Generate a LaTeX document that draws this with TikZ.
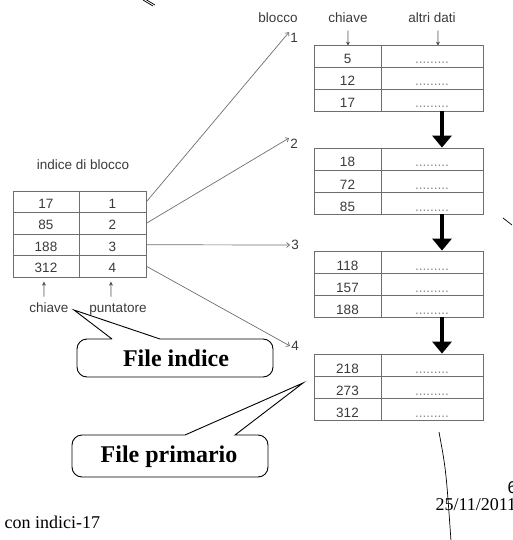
\documentclass[tikz,border=0pt]{standalone}
\usepackage{graphicx}
\usepackage{fontspec}
\setmainfont{Liberation Serif}
\setsansfont{Liberation Sans}
\usetikzlibrary{arrows.meta}
\definecolor{ink}{HTML}{3A3A3A}
\definecolor{rule}{HTML}{6E6E6E}
\definecolor{dots}{HTML}{8A8A8A}
\newcommand{\tallglyph}[1]{\scalebox{1.1}[1.9]{#1}}
\tikzset{
  tab/.style={font=\sffamily\fontsize{13.5}{14}\selectfont, text=ink},
  cell/.style={tab, draw=rule, line width=0.8pt, inner sep=0pt,
    minimum height=22pt, text height=16pt, text depth=0pt},
  keycell/.style={cell, minimum width=67pt},
  datacell/.style={cell, minimum width=102pt, text=dots},
  idxcell/.style={cell, minimum height=21.5pt, text height=13pt},
  link/.style={draw=rule, line width=0.7pt, -{Straight Barb[length=3pt,width=5pt]}},
  chain/.style={draw=black, line width=4.5pt, -{Triangle[width=19pt,length=12pt]}},
  callout/.style={draw=black, line width=0.9pt, fill=white},
  bigtext/.style={font=\bfseries\fontsize{24}{26}\selectfont},
  foot/.style={font=\fontsize{18}{20}\selectfont, anchor=base west},
  lbl/.style={tab, inner sep=1pt},
  arrowglyph/.style={tab, inner sep=0pt},
}
\begin{document}
\begin{tikzpicture}[x=1pt,y=-1pt]
\useasboundingbox (0,0) rectangle (512,540);

% column headers of the data file
\node[tab, anchor=base] (hblk) at (278,23) {blocco};
\node[tab, anchor=base] (hkey) at (348,23) {chiave};
\node[tab, anchor=base] (hdat) at (432,23) {altri dati};
\node[arrowglyph] (dkey) at (348,38.5) {\tallglyph{↓}};
\node[arrowglyph] (ddat) at (438,38.5) {\tallglyph{↓}};

% data blocks
\foreach \b/\y/\keys in {1/45/{5,12,17}, 2/148/{18,72,85}, 3/251/{118,157,188}, 4/354/{218,273,312}} {
  \foreach \k [count=\r] in \keys {
    \node[keycell] (b\b k\r) at (347.5,{\y+22*\r-11}) {\k};
    \node[datacell] (b\b d\r) at (432,{\y+22*\r-11}) {.........};
  }
}

% chaining between consecutive blocks
\draw[chain] ([xshift=10pt]b1d3.south) -- ([xshift=10pt]b2d1.north);
\draw[chain] ([xshift=10pt]b2d3.south) -- ([xshift=10pt]b3d1.north);
\draw[chain] ([xshift=10pt]b3d3.south) -- ([xshift=10pt]b4d1.north);

% block numbers
\node[lbl] (lab1) at (294,38) {1};
\node[lbl] (lab2) at (294,144) {2};
\node[lbl] (lab3) at (295,245) {3};
\node[lbl] (lab4) at (295,346) {4};

% block index
\node[tab, anchor=base] (ititle) at (83,169) {indice di blocco};
\foreach \k/\p [count=\r] in {17/1,85/2,188/3,312/4} {
  \node[idxcell, minimum width=66pt] (ik\r) at (46,{191+21.5*\r-10.75}) {\k};
  \node[idxcell, minimum width=67pt] (ip\r) at (112.5,{191+21.5*\r-10.75}) {\p};
}
\node[arrowglyph] (uk) at (44,290) {\tallglyph{↑}};
\node[arrowglyph] (up) at (111,290) {\tallglyph{↑}};
\node[tab, anchor=base] (lk) at (49,312) {chiave};
\node[tab, anchor=base] (lp) at (118,312) {puntatore};

% pointers from index entries to blocks
\draw[link] (ip1.east) -- (lab1.north west);
\draw[link] (ip2.east) -- (lab2.north west);
\draw[link] (ip3.east) -- (lab3.west);
\draw[link] (ip4.east) -- (lab4.west);

% callouts
\draw[callout] (112,339) -- (74,310) -- (160,339) [rounded corners=10pt]
  -- (273,339) -- (273,377) -- (77,377) -- (77,339) [sharp corners] -- (112,339);
\node[bigtext] (cfi) at (176,358) {File indice};

\draw[callout] (185,435) -- (303,383) -- (235,435) [rounded corners=10pt]
  -- (268,435) -- (268,477) -- (72,477) -- (72,435) [sharp corners] -- (185,435);
\node[bigtext] (cfp) at (169,457) {File primario};

% footer
\node[foot] (ftl) at (1,528) {con indici-17};
\node[foot, font=\sffamily\fontsize{17}{19}\selectfont] (fpg) at (504,493) {6};
\node[foot] (fdt) at (432,510) {25/11/2011};

% pen strokes
\draw[line width=0.7pt] (143,0) -- (153,6);
\draw[line width=0.7pt] (145,-1) -- (155,5);
\draw[line width=0.7pt] (503,218) -- (512,225);
\draw[line width=0.7pt] (439,432) .. controls (446,470) .. (451,541);
\end{tikzpicture}
\end{document}
